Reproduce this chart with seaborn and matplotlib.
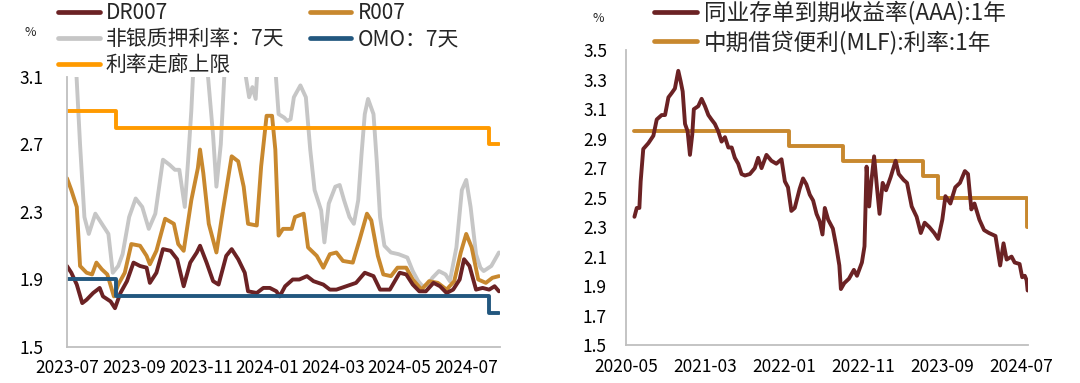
import pandas as pd
import matplotlib
matplotlib.use('Agg')
import matplotlib.pyplot as plt
import matplotlib.dates as mdates
from matplotlib.lines import Line2D
import seaborn as sns

# ---------------- left panel data ----------------
dr007_dates = ['2023-07-01', '2023-07-05', '2023-07-10', '2023-07-15', '2023-07-19', '2023-07-25', '2023-07-31',
               '2023-08-03', '2023-08-10', '2023-08-14', '2023-08-19', '2023-08-25', '2023-08-31',
               '2023-09-06', '2023-09-12', '2023-09-15', '2023-09-21', '2023-09-27',
               '2023-10-04', '2023-10-10', '2023-10-16', '2023-10-22', '2023-10-28', '2023-10-31',
               '2023-11-06', '2023-11-12', '2023-11-17', '2023-11-24', '2023-11-29',
               '2023-12-05', '2023-12-11', '2023-12-14', '2023-12-22', '2023-12-28',
               '2024-01-03', '2024-01-09', '2024-01-12', '2024-01-17', '2024-01-24', '2024-01-30',
               '2024-02-06', '2024-02-12', '2024-02-21', '2024-02-27',
               '2024-03-04', '2024-03-13', '2024-03-22', '2024-03-30',
               '2024-04-07', '2024-04-13', '2024-04-22',
               '2024-05-01', '2024-05-07', '2024-05-13', '2024-05-19', '2024-05-25',
               '2024-06-01', '2024-06-07', '2024-06-13', '2024-06-19', '2024-06-25', '2024-06-29',
               '2024-07-04', '2024-07-10', '2024-07-16', '2024-07-22', '2024-07-27', '2024-07-31']
dr007 = [1.98, 1.94, 1.87, 1.76, 1.78, 1.82, 1.85,
         1.80, 1.77, 1.73, 1.82, 1.89, 2.00,
         1.98, 1.97, 1.88, 1.94, 2.08,
         2.07, 2.02, 1.86, 2.00, 2.06, 2.10,
         2.00, 1.89, 1.87, 2.04, 2.08,
         2.02, 1.94, 1.83, 1.82, 1.85,
         1.85, 1.83, 1.80, 1.86, 1.90, 1.90,
         1.92, 1.89, 1.87, 1.84,
         1.84, 1.86, 1.88, 1.94,
         1.92, 1.84, 1.84,
         1.94, 1.93, 1.87, 1.83, 1.83,
         1.88, 1.86, 1.82, 1.84, 1.90, 2.02,
         1.98, 1.84, 1.85, 1.84, 1.86, 1.83]

r007_dates = ['2023-07-01', '2023-07-05', '2023-07-10', '2023-07-13', '2023-07-19', '2023-07-24', '2023-07-28',
              '2023-08-02', '2023-08-07', '2023-08-13', '2023-08-17', '2023-08-23', '2023-08-29',
              '2023-09-06', '2023-09-12', '2023-09-15', '2023-09-21', '2023-09-29',
              '2023-10-07', '2023-10-11', '2023-10-16', '2023-10-23', '2023-10-29', '2023-10-31',
              '2023-11-03', '2023-11-08', '2023-11-15', '2023-11-21', '2023-11-29',
              '2023-12-05', '2023-12-10', '2023-12-14', '2023-12-22', '2023-12-26', '2023-12-31',
              '2024-01-05', '2024-01-08', '2024-01-11', '2024-01-15', '2024-01-23', '2024-01-26',
              '2024-02-03', '2024-02-07', '2024-02-15', '2024-02-21', '2024-02-27',
              '2024-03-04', '2024-03-10', '2024-03-19', '2024-03-25',
              '2024-04-01', '2024-04-05', '2024-04-11', '2024-04-16', '2024-04-23', '2024-04-29',
              '2024-05-07', '2024-05-13', '2024-05-21', '2024-05-28',
              '2024-06-05', '2024-06-13', '2024-06-20', '2024-06-26',
              '2024-07-01', '2024-07-06', '2024-07-12', '2024-07-19', '2024-07-25', '2024-07-31']
r007 = [2.50, 2.43, 2.33, 1.98, 1.94, 1.93, 2.00,
        1.96, 1.93, 1.80, 1.87, 1.94, 2.11,
        2.10, 2.04, 1.99, 2.07, 2.26,
        2.23, 2.11, 2.07, 2.37, 2.56, 2.67,
        2.53, 2.23, 2.06, 2.31, 2.63,
        2.60, 2.45, 2.23, 2.22, 2.57, 2.87,
        2.87, 2.67, 2.16, 2.20, 2.20, 2.27,
        2.29, 2.09, 2.04, 1.97, 2.05,
        2.06, 2.01, 2.00, 2.13,
        2.29, 2.25, 2.04, 1.93, 1.92, 1.97,
        1.97, 1.90, 1.84, 1.89,
        1.88, 1.84, 1.89, 2.06,
        2.17, 2.09, 1.90, 1.88, 1.91, 1.92]

nonbank_dates = ['2023-07-01', '2023-07-05', '2023-07-09', '2023-07-13', '2023-07-17', '2023-07-21', '2023-07-27',
                 '2023-08-02', '2023-08-08', '2023-08-12', '2023-08-17', '2023-08-21', '2023-08-27',
                 '2023-09-02', '2023-09-08', '2023-09-14', '2023-09-20', '2023-09-27',
                 '2023-10-03', '2023-10-08', '2023-10-12', '2023-10-17', '2023-10-20', '2023-10-23', '2023-10-26',
                 '2023-11-01', '2023-11-06', '2023-11-12', '2023-11-15', '2023-11-19', '2023-11-23',
                 '2023-12-01', '2023-12-10', '2023-12-12', '2023-12-15', '2023-12-18', '2023-12-21', '2023-12-24',
                 '2024-01-02', '2024-01-08', '2024-01-11', '2024-01-16', '2024-01-19', '2024-01-22', '2024-01-25',
                 '2024-01-31', '2024-02-05', '2024-02-09', '2024-02-13', '2024-02-19', '2024-02-22', '2024-02-26',
                 '2024-03-03', '2024-03-07', '2024-03-11', '2024-03-16', '2024-03-20', '2024-03-24', '2024-03-27',
                 '2024-03-30', '2024-04-02', '2024-04-07', '2024-04-10', '2024-04-13', '2024-04-17', '2024-04-23',
                 '2024-04-30', '2024-05-08', '2024-05-13', '2024-05-18', '2024-05-22', '2024-05-27', '2024-05-31',
                 '2024-06-06', '2024-06-12', '2024-06-16', '2024-06-22', '2024-06-27',
                 '2024-07-01', '2024-07-05', '2024-07-10', '2024-07-14', '2024-07-17', '2024-07-24', '2024-07-31']
nonbank = [3.80, 3.50, 3.20, 2.70, 2.27, 2.17, 2.29,
           2.23, 2.17, 1.94, 1.98, 2.05, 2.27,
           2.38, 2.33, 2.20, 2.29, 2.61,
           2.58, 2.55, 2.55, 2.33, 2.60, 2.90, 3.30,
           3.50, 3.20, 2.75, 2.45, 2.70, 3.20,
           3.50, 3.30, 3.10, 2.98, 3.04, 2.97, 3.30,
           3.50, 3.15, 2.88, 2.86, 2.84, 2.85, 2.98,
           3.05, 2.98, 2.67, 2.43, 2.31, 2.12, 2.35,
           2.45, 2.46, 2.37, 2.27, 2.23, 2.37, 2.64,
           2.88, 2.97, 2.88, 2.60, 2.27, 2.10, 2.06,
           2.05, 2.03, 1.95, 1.89, 1.86, 1.87, 1.91,
           1.95, 1.93, 1.89, 2.09, 2.43,
           2.49, 2.33, 2.05, 1.97, 1.95, 1.98, 2.06]

policy_dates = ['2023-07-01', '2023-08-15', '2024-07-22', '2024-07-31']
omo_7d = [1.9, 1.8, 1.7, 1.7]
corridor_upper = [2.9, 2.8, 2.7, 2.7]

# ---------------- right panel data ----------------
ncd_dates = ['2020-06-01', '2020-06-10', '2020-06-20', '2020-06-25', '2020-07-05', '2020-07-25', '2020-08-13',
             '2020-08-26', '2020-09-14', '2020-09-27', '2020-10-10', '2020-10-23', '2020-11-04', '2020-11-17',
             '2020-11-26', '2020-12-04', '2020-12-13', '2020-12-23',
             '2021-01-01', '2021-01-10', '2021-01-16', '2021-02-02', '2021-02-15', '2021-02-28', '2021-03-13',
             '2021-03-25', '2021-04-07', '2021-04-20', '2021-05-03', '2021-05-16', '2021-05-29', '2021-06-11',
             '2021-06-23', '2021-07-06', '2021-07-19', '2021-08-01', '2021-08-20', '2021-09-08', '2021-09-21',
             '2021-10-04', '2021-10-23', '2021-11-11', '2021-11-30', '2021-12-20',
             '2022-01-02', '2022-01-14', '2022-01-27', '2022-02-09', '2022-02-28', '2022-03-13', '2022-03-26',
             '2022-04-08', '2022-04-21', '2022-05-04', '2022-05-16', '2022-05-27', '2022-06-05', '2022-06-18',
             '2022-07-06', '2022-07-19', '2022-07-31', '2022-08-06', '2022-08-19', '2022-09-06', '2022-09-25',
             '2022-10-07', '2022-10-26', '2022-11-05', '2022-11-13', '2022-11-23', '2022-12-02', '2022-12-12',
             '2022-12-23',
             '2023-01-02', '2023-01-14', '2023-01-27', '2023-02-14', '2023-03-05', '2023-03-17', '2023-04-05',
             '2023-04-18', '2023-05-06', '2023-05-25', '2023-06-10', '2023-06-25', '2023-07-13', '2023-08-01',
             '2023-08-16', '2023-09-01', '2023-09-13', '2023-10-02', '2023-10-21', '2023-11-08', '2023-11-27',
             '2023-12-09', '2023-12-22',
             '2024-01-03', '2024-01-22', '2024-02-09', '2024-02-28', '2024-03-24', '2024-04-11', '2024-04-24',
             '2024-05-06', '2024-05-25', '2024-06-06', '2024-06-25', '2024-07-05', '2024-07-15', '2024-07-22',
             '2024-07-26']
ncd_1y = [2.37, 2.43, 2.43, 2.61, 2.83, 2.87, 2.92,
          3.03, 3.06, 3.06, 3.18, 3.21, 3.24, 3.36,
          3.29, 3.22, 3.00, 2.95,
          2.79, 2.93, 3.10, 3.12, 3.17, 3.12, 3.06,
          3.03, 3.00, 2.95, 2.88, 2.91, 2.84, 2.84,
          2.77, 2.73, 2.66, 2.65, 2.66, 2.70, 2.77,
          2.70, 2.79, 2.75, 2.73, 2.76,
          2.61, 2.57, 2.41, 2.43, 2.56, 2.63, 2.59,
          2.52, 2.48, 2.39, 2.34, 2.25, 2.43, 2.35,
          2.29, 2.17, 2.04, 1.88, 1.92, 1.95, 2.01,
          1.97, 2.06, 2.17, 2.71, 2.44, 2.62, 2.78,
          2.57,
          2.39, 2.60, 2.55, 2.64, 2.75, 2.66, 2.62,
          2.60, 2.44, 2.37, 2.26, 2.33, 2.30, 2.26,
          2.22, 2.35, 2.51, 2.46, 2.57, 2.60, 2.68,
          2.66, 2.42,
          2.46, 2.35, 2.28, 2.26, 2.24, 2.04, 2.19,
          2.08, 2.10, 2.06, 2.05, 1.96, 1.97, 1.94,
          1.87]

mlf_dates = ['2020-06-01', '2022-01-17', '2022-08-15', '2023-06-20', '2023-08-15', '2024-07-25', '2024-07-26']
mlf_1y = [2.95, 2.85, 2.75, 2.65, 2.50, 2.30, 2.30]

# ---------------- colours ----------------
c_dr = '#6B2224'
c_r = '#C8882E'
c_gray = '#C6C6C6'
c_omo = '#22577F'
c_corr = '#FF9A00'
spine_c = '#BFBFBF'

sns.set_theme(style='white')
plt.rcParams['font.family'] = ['Noto Sans CJK SC', 'DejaVu Sans']

fig = plt.figure(figsize=(10.8, 3.83), dpi=100)
ax1 = fig.add_axes([0.062, 0.094, 0.401, 0.705])
ax2 = fig.add_axes([0.580, 0.099, 0.372, 0.770])

df_dr = pd.DataFrame({'date': pd.to_datetime(dr007_dates), 'v': dr007})
df_r = pd.DataFrame({'date': pd.to_datetime(r007_dates), 'v': r007})
df_nb = pd.DataFrame({'date': pd.to_datetime(nonbank_dates), 'v': nonbank})
df_pol = pd.DataFrame({'date': pd.to_datetime(policy_dates), 'omo': omo_7d, 'upper': corridor_upper})

lw = 2.8
sns.lineplot(data=df_nb, x='date', y='v', ax=ax1, color=c_gray, lw=lw)
sns.lineplot(data=df_r, x='date', y='v', ax=ax1, color=c_r, lw=lw)
sns.lineplot(data=df_dr, x='date', y='v', ax=ax1, color=c_dr, lw=lw)
sns.lineplot(data=df_pol, x='date', y='upper', ax=ax1, color=c_corr, lw=2.8, drawstyle='steps-post')
sns.lineplot(data=df_pol, x='date', y='omo', ax=ax1, color=c_omo, lw=2.8, drawstyle='steps-post')

ax1.set_xlim(pd.Timestamp('2023-07-01'), pd.Timestamp('2024-08-01'))
ax1.set_ylim(1.5, 3.1)
ax1.set_yticks([1.5, 1.9, 2.3, 2.7, 3.1])
ax1.xaxis.set_major_locator(mdates.MonthLocator(bymonth=[1, 3, 5, 7, 9, 11]))
ax1.xaxis.set_major_formatter(mdates.DateFormatter('%Y-%m'))

df_ncd = pd.DataFrame({'date': pd.to_datetime(ncd_dates), 'v': ncd_1y})
df_mlf = pd.DataFrame({'date': pd.to_datetime(mlf_dates), 'v': mlf_1y})
sns.lineplot(data=df_mlf, x='date', y='v', ax=ax2, color=c_r, lw=2.8, drawstyle='steps-post')
sns.lineplot(data=df_ncd, x='date', y='v', ax=ax2, color=c_dr, lw=2.8)

ax2.set_xlim(pd.Timestamp('2020-05-01'), pd.Timestamp('2024-07-28'))
ax2.set_ylim(1.5, 3.5)
ax2.set_yticks([1.5, 1.7, 1.9, 2.1, 2.3, 2.5, 2.7, 2.9, 3.1, 3.3, 3.5])
ax2.set_xticks(pd.date_range('2020-05-01', '2024-07-01', freq='10MS'))
ax2.xaxis.set_major_formatter(mdates.DateFormatter('%Y-%m'))

for ax, ypad in ((ax1, 17), (ax2, 14)):
    ax.set_xlabel('')
    ax.set_ylabel('')
    sns.despine(ax=ax)
    for s in ('left', 'bottom'):
        ax.spines[s].set_color(spine_c)
        ax.spines[s].set_linewidth(1.3)
    ax.tick_params(axis='both', direction='in', length=4, width=1, color=spine_c,
                   labelsize=12.5, labelcolor='black')
    ax.tick_params(axis='x', pad=9)
    ax.tick_params(axis='y', pad=ypad)
    ax.yaxis.set_major_formatter(matplotlib.ticker.FormatStrFormatter('%.1f'))
    ax.grid(False)

fig.text(30 / 1080, 1 - 33 / 383, '%', fontsize=9, ha='center', va='center')
fig.text(598 / 1080, 1 - 18 / 383, '%', fontsize=9, ha='center', va='center')

# legends
h = lambda c: Line2D([], [], color=c, lw=3.4)
leg1 = fig.legend([h(c_dr), h(c_gray), h(c_corr), h(c_r), h(c_omo)],
                  ['DR007', '非银质押利率：7天', '利率走廊上限', 'R007', 'OMO：7天'],
                  ncol=2, loc='upper left', bbox_to_anchor=(58 / 1080, 1 - 2 / 383), frameon=False,
                  fontsize=15, handlelength=2.0, handletextpad=0.3, columnspacing=1.2,
                  labelspacing=0.2, borderaxespad=0, borderpad=0)
leg2 = fig.legend([h(c_dr), h(c_r)],
                  ['同业存单到期收益率(AAA):1年', '中期借贷便利(MLF):利率:1年'],
                  loc='upper left', bbox_to_anchor=(654 / 1080, 1 - 1 / 383), frameon=False,
                  fontsize=16.3, handlelength=1.9, handletextpad=0.3,
                  labelspacing=0.25, borderaxespad=0, borderpad=0)

fig.savefig('out.png', dpi=100)
